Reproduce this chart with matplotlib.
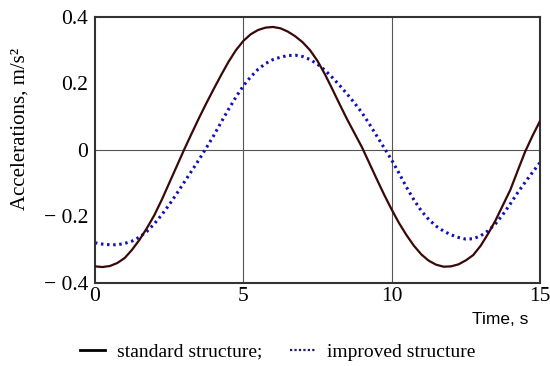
import matplotlib
matplotlib.use("Agg")
import matplotlib.pyplot as plt

# time axis, s (0.25 s steps)
time_s = [i * 0.25 for i in range(61)]

# accelerations, m/s^2
standard = [-0.350, -0.352, -0.349, -0.340, -0.325, -0.300, -0.270, -0.235,
            -0.196, -0.150, -0.100, -0.050, 0.000, 0.048, 0.095, 0.140,
            0.183, 0.225, 0.265, 0.300, 0.328, 0.348, 0.361, 0.368,
            0.370, 0.366, 0.356, 0.342, 0.324, 0.300, 0.268, 0.228,
            0.183, 0.137, 0.092, 0.050, 0.008, -0.040, -0.088, -0.135,
            -0.179, -0.220, -0.256, -0.288, -0.314, -0.333, -0.345, -0.351,
            -0.350, -0.344, -0.332, -0.316, -0.288, -0.252, -0.212, -0.166,
            -0.120, -0.062, -0.005, 0.043, 0.087]
improved = [-0.279, -0.283, -0.285, -0.285, -0.281, -0.274, -0.262, -0.245,
            -0.222, -0.195, -0.165, -0.132, -0.098, -0.064, -0.030, 0.006,
            0.043, 0.083, 0.122, 0.159, 0.193, 0.220, 0.243, 0.260,
            0.272, 0.279, 0.284, 0.285, 0.281, 0.272, 0.258, 0.240,
            0.218, 0.194, 0.168, 0.141, 0.112, 0.078, 0.042, 0.006,
            -0.030, -0.070, -0.112, -0.150, -0.183, -0.209, -0.229, -0.244,
            -0.255, -0.263, -0.268, -0.267, -0.258, -0.243, -0.222, -0.194,
            -0.162, -0.128, -0.097, -0.067, -0.038]

x_ticks = [0, 5, 10, 15]
y_ticks = [-0.4, -0.2, 0, 0.2, 0.4]
y_tick_labels = ["\u2212 0.4", "\u2212 0.2", "0", "0.2", "0.4"]

serif = "Liberation Serif"

fig = plt.figure(figsize=(5.5, 3.66), dpi=100)
ax = fig.add_axes([0.1727, 0.2268, 0.8091, 0.7268])

ax.axvline(5, color="#555555", lw=0.8, zorder=1)
ax.axvline(10, color="#555555", lw=0.8, zorder=1)
ax.axhline(0, color="#555555", lw=0.8, zorder=1)

ax.plot(time_s, standard, color="#3a0808", lw=1.6, zorder=3)
ax.plot(time_s, improved, color="#1010c0", lw=2.2,
        linestyle=(0, (0.8, 1.2)), zorder=2)

ax.set_xlim(0, 15)
ax.set_ylim(-0.4, 0.4)
ax.set_xticks(x_ticks)
ax.set_xticklabels([str(v) for v in x_ticks], fontfamily=serif, fontsize=15.5)
ax.set_yticks(y_ticks)
ax.set_yticklabels(y_tick_labels, fontfamily=serif, fontsize=15.5)
ax.tick_params(axis="x", length=0, pad=3)
ax.tick_params(axis="y", length=0, pad=5)
for s in ax.spines.values():
    s.set_color("#333333")
    s.set_linewidth(1.5)

ax.set_ylabel("Accelerations, m/s\u00b2", fontfamily=serif, fontsize=15)
ax.yaxis.set_label_coords(-0.146, 0.58)
fig.text(0.96, 0.114, "Time, s", family="Liberation Sans", fontsize=12.5, ha="right")

leg_std = plt.Line2D([], [], color="black", lw=2)
leg_imp = plt.Line2D([], [], color="#1a1a60", lw=1.6, linestyle=(0, (1, 1)))
fig.legend([leg_std, leg_imp], ["standard structure;", "improved structure"],
           loc="center left", bbox_to_anchor=(0.1455, 0.038), ncol=2, frameon=False,
           borderpad=0, borderaxespad=0,
           prop={"family": serif, "size": 14}, handlelength=1.3, handletextpad=0.6,
           columnspacing=1.4)

fig.savefig("out.png", dpi=100)
